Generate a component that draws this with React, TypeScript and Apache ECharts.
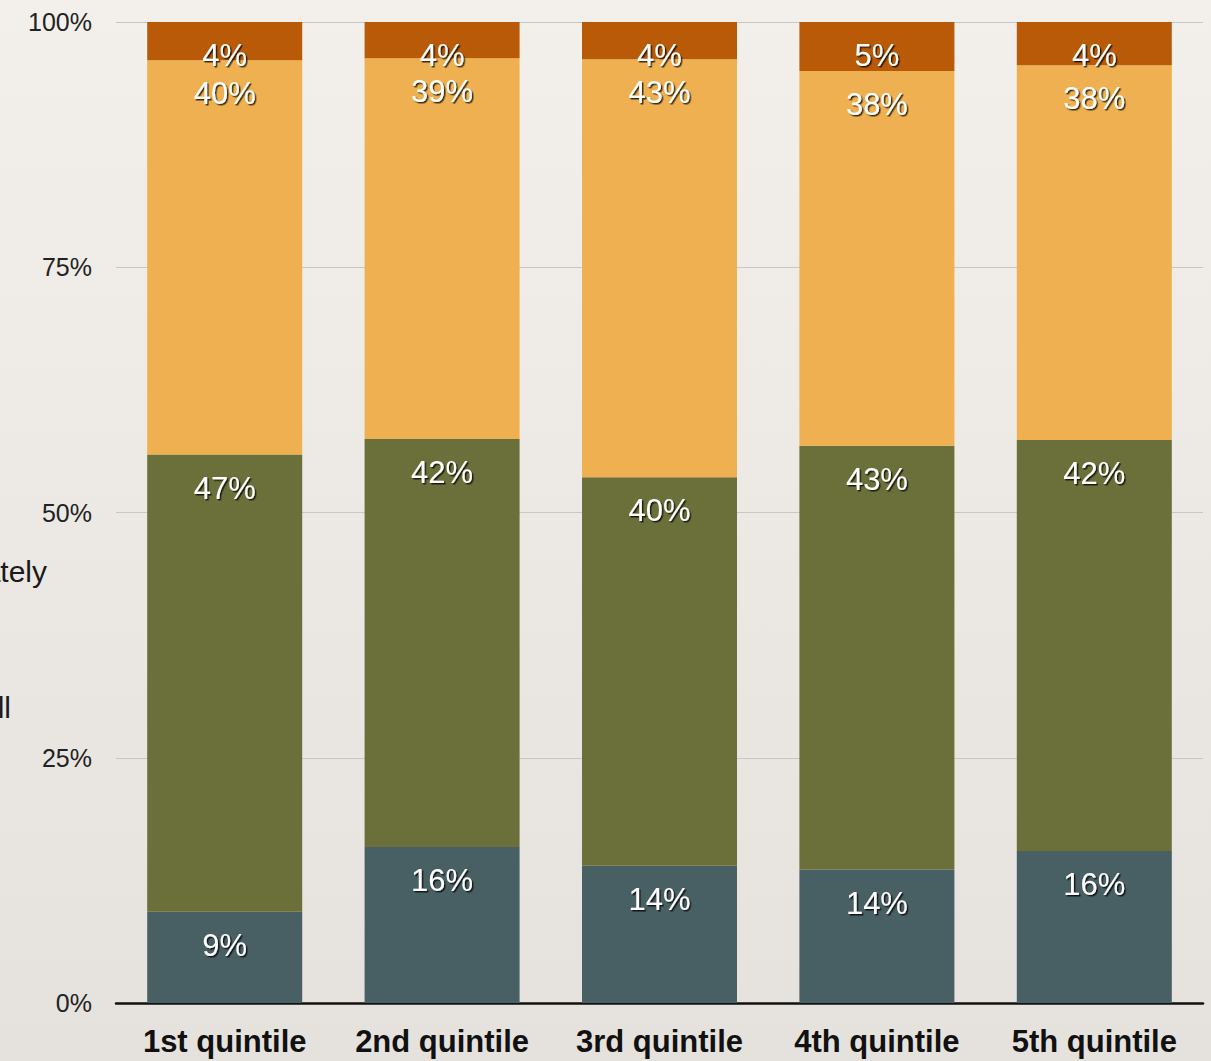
import React, { useEffect, useRef } from "react";
import * as echarts from "echarts";

const categories = ["1st quintile", "2nd quintile", "3rd quintile", "4th quintile", "5th quintile"];
const bottomSeries = [9.3, 15.9, 14.0, 13.6, 15.5];
const secondSeries = [46.6, 41.6, 39.6, 43.2, 41.9];
const thirdSeries = [40.2, 38.8, 42.6, 38.2, 38.2];
const topSeries = [3.9, 3.7, 3.8, 5.0, 4.4];
const seriesNames = ["Not at all", "A little", "Moderately", "Very"];
const seriesColors = ["#485f63", "#6b6f3a", "#eeb050", "#b95a08"];
const yTicks = [0, 25, 50, 75, 100];

export default function App() {
  const ref = useRef<HTMLDivElement>(null);
  useEffect(() => {
    if (!ref.current) return;
    const chart = echarts.init(ref.current, null, { renderer: "svg" });
    const font = "'Liberation Sans', Arial, Helvetica, sans-serif";
    const datasets = [bottomSeries, secondSeries, thirdSeries, topSeries];
    chart.setOption({
      animation: false,
      backgroundColor: {
        type: "linear",
        x: 0,
        y: 0,
        x2: 0,
        y2: 1,
        colorStops: [
          { offset: 0, color: "#f3f0eb" },
          { offset: 1, color: "#e5e2dd" },
        ],
      },
      grid: { left: 116, right: 8, top: 22, bottom: 58, containLabel: false },
      xAxis: {
        type: "category",
        data: categories,
        axisLine: { show: true, lineStyle: { color: "#111", width: 2.5 } },
        axisTick: { show: false },
        axisLabel: {
          interval: 0,
          hideOverlap: false,
          color: "#111",
          fontFamily: font,
          fontWeight: "bold",
          fontSize: 31,
          margin: 23,
        },
      },
      yAxis: {
        type: "value",
        min: 0,
        max: 100,
        interval: 25,
        axisLine: { show: false },
        axisTick: { show: false },
        splitLine: { show: true, lineStyle: { color: "#c9c7c3", width: 1.2 } },
        axisLabel: {
          color: "#222",
          fontFamily: font,
          fontSize: 25,
          margin: 24,
          formatter: (v: number) => (yTicks.includes(v) ? v + "%" : ""),
        },
      },
      graphic: [
        {
          type: "text",
          x: 47,
          y: 571,
          style: {
            text: "Moderately",
            fill: "#1a1a1a",
            font: "30px " + font,
            textAlign: "right",
            textVerticalAlign: "middle",
          },
        },
        {
          type: "text",
          x: 11,
          y: 707,
          style: {
            text: "Not at all",
            fill: "#1a1a1a",
            font: "30px " + font,
            textAlign: "right",
            textVerticalAlign: "middle",
          },
        },
      ],
      series: datasets.map((d, i) => ({
        name: seriesNames[i],
        type: "bar",
        stack: "total",
        data: d,
        barWidth: 155,
        itemStyle: { color: seriesColors[i] },
        label: {
          show: true,
          position: "insideTop",
          distance: 18,
          color: "#ffffff",
          fontFamily: font,
          fontSize: 31,
          textShadowColor: "rgba(0,0,0,0.75)",
          textShadowOffsetX: 1.5,
          textShadowOffsetY: 1.5,
          textShadowBlur: 1,
          formatter: (p: any) => Math.round(p.value) + "%",
        },
      })),
    });
    return () => chart.dispose();
  }, []);
  return (
    <div
      ref={ref}
      style={{ position: "fixed", left: 0, top: 0, width: 1211, height: 1061 }}
    />
  );
}
